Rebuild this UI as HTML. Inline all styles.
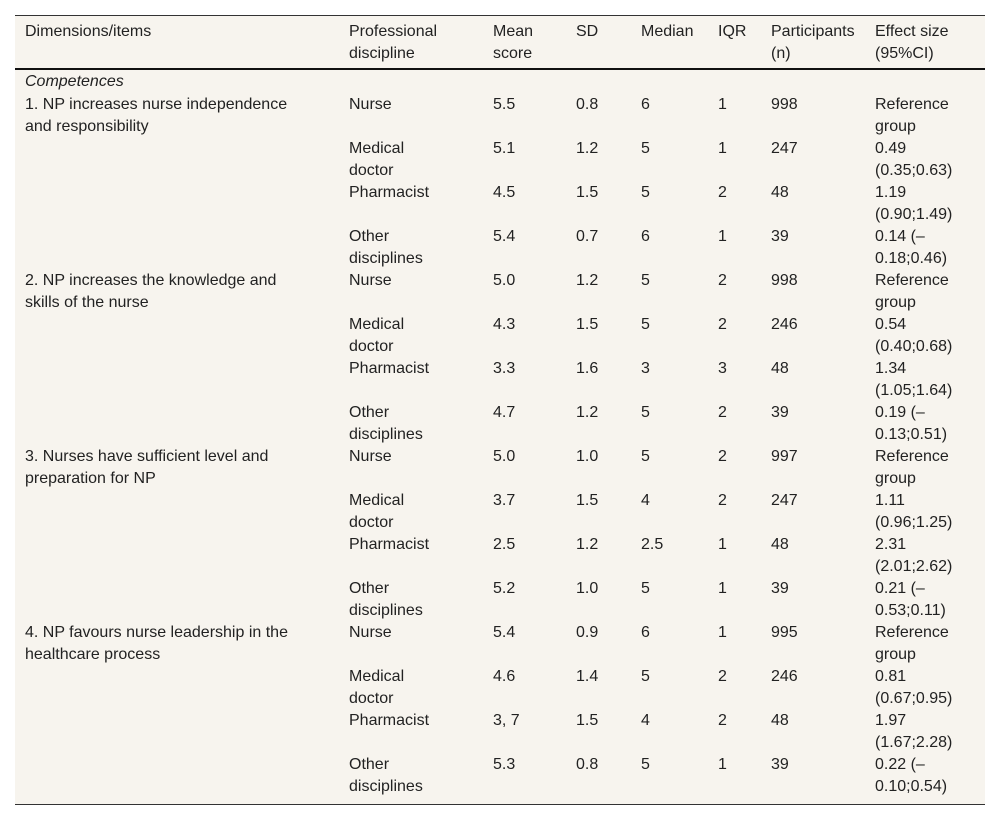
<!DOCTYPE html>
<html><head><meta charset="utf-8"><style>
body{margin:0;width:1000px;height:818px;background:#fff;font-family:"Liberation Sans",Arial,sans-serif;font-size:16px;color:#222;position:relative;overflow:hidden}
#tbl{position:absolute;left:15px;top:15px;width:970px;height:788px;background:#f7f4ee;border-top:1px solid #333;border-bottom:1px solid #333}
.hl{position:absolute;left:0;width:970px;top:52px;height:2px;background:#111}
.row{position:absolute;left:0;width:970px;line-height:22px}
.c{position:absolute;top:0}
.c0{left:10px;width:270px}.c1{left:334px;width:100px}.c2{left:478px}.c3{left:561px}.c4{left:626px}.c5{left:703px}.c6{left:756px}.c7{left:860px;width:105px}
</style></head><body>
<div id="tbl">
<div class="row" style="top:5px">
<div class="c c0">Dimensions/items</div><div class="c c1">Professional<br>discipline</div><div class="c c2">Mean<br>score</div><div class="c c3">SD</div><div class="c c4">Median</div><div class="c c5">IQR</div><div class="c c6">Participants<br>(n)</div><div class="c c7">Effect size<br>(95%CI)</div>
</div>
<div class="hl"></div>
<div class="row" style="top:55px;font-style:italic"><div class="c c0">Competences</div></div>
<div id="body"></div>
</div>
<script>
const items=["1. NP increases nurse independence and responsibility","2. NP increases the knowledge and skills of the nurse","3. Nurses have sufficient level and preparation for NP","4. NP favours nurse leadership in the healthcare process"];
const disc=["Nurse","Medical<br>doctor","Pharmacist","Other<br>disciplines"];
const data=[
[["5.5","0.8","6","1","998","Reference<br>group"],["5.1","1.2","5","1","247","0.49<br>(0.35;0.63)"],["4.5","1.5","5","2","48","1.19<br>(0.90;1.49)"],["5.4","0.7","6","1","39","0.14 (–<br>0.18;0.46)"]],
[["5.0","1.2","5","2","998","Reference<br>group"],["4.3","1.5","5","2","246","0.54<br>(0.40;0.68)"],["3.3","1.6","3","3","48","1.34<br>(1.05;1.64)"],["4.7","1.2","5","2","39","0.19 (–<br>0.13;0.51)"]],
[["5.0","1.0","5","2","997","Reference<br>group"],["3.7","1.5","4","2","247","1.11<br>(0.96;1.25)"],["2.5","1.2","2.5","1","48","2.31<br>(2.01;2.62)"],["5.2","1.0","5","1","39","0.21 (–<br>0.53;0.11)"]],
[["5.4","0.9","6","1","995","Reference<br>group"],["4.6","1.4","5","2","246","0.81<br>(0.67;0.95)"],["3, 7","1.5","4","2","48","1.97<br>(1.67;2.28)"],["5.3","0.8","5","1","39","0.22 (–<br>0.10;0.54)"]]];
const body=document.getElementById('body');
let h='';
for(let i=0;i<4;i++)for(let j=0;j<4;j++){
 const top=78+(i*4+j)*44;const d=data[i][j];
 h+=`<div class="row" style="top:${top}px">`+
 (j==0?`<div class="c c0">${items[i]}</div>`:'')+
 `<div class="c c1">${disc[j]}</div>`+d.map((v,k)=>`<div class="c c${k+2}">${v}</div>`).join('')+`</div>`;
}
body.innerHTML=h;
</script>
</body></html>
